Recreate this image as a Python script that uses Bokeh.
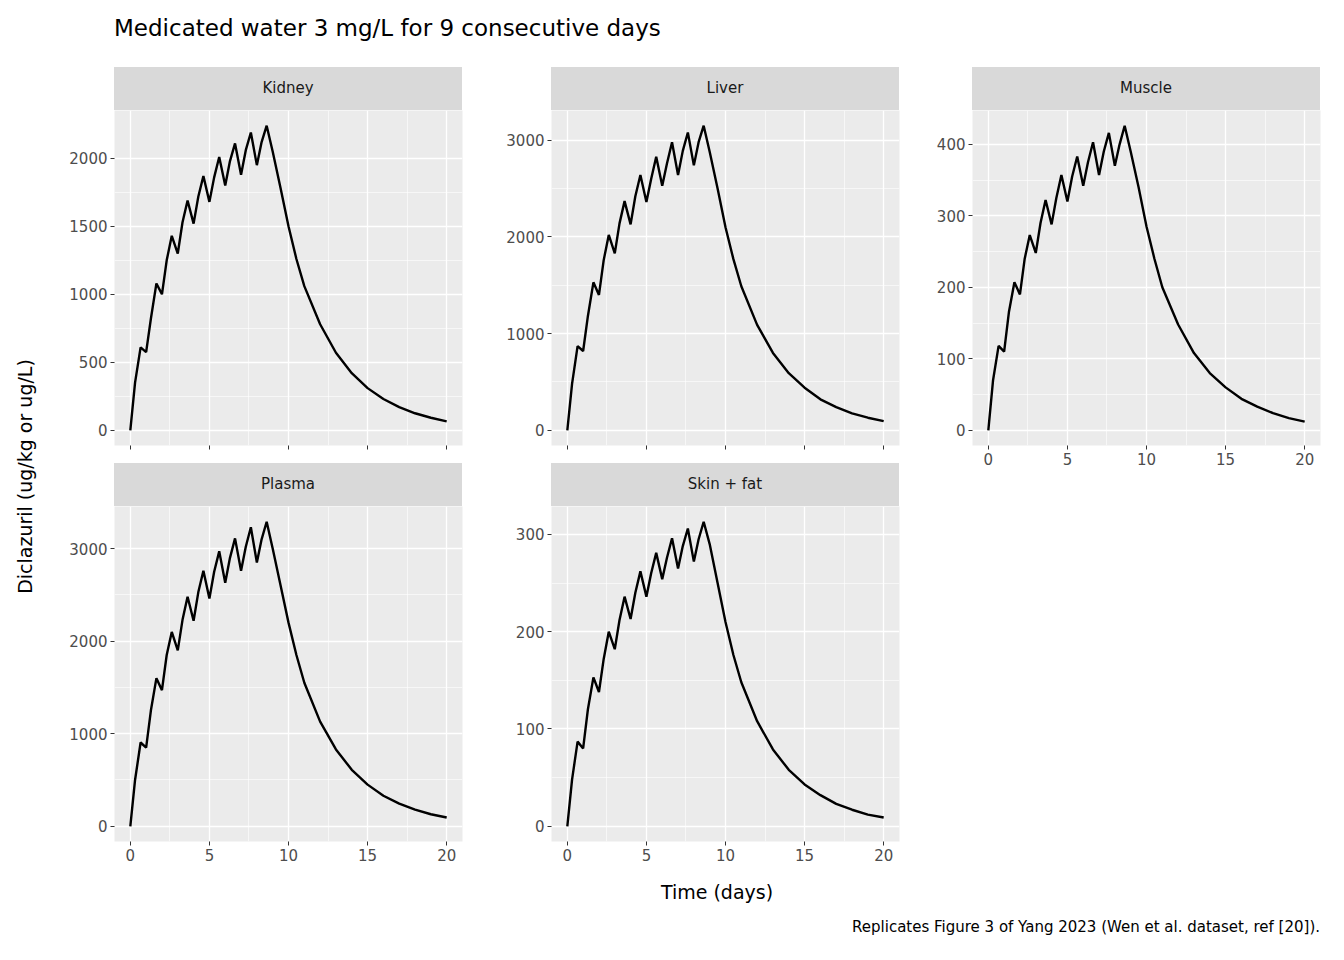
import math
from bokeh.plotting import figure
from bokeh.models import Div, Range1d, Label, FixedTicker, Plot
from bokeh.layouts import column, row
from bokeh.embed import file_html
from bokeh.resources import INLINE

time = [0, 0.3, 0.65, 1.0, 1.3, 1.65, 2.0, 2.3, 2.62, 3.0, 3.3, 3.62, 4.0, 4.3, 4.62,
        5.0, 5.3, 5.62, 6.0, 6.3, 6.62, 7.0, 7.3, 7.62, 8.0, 8.3, 8.62,
        9.0, 9.5, 10, 10.5, 11, 12, 13, 14, 15, 16, 17, 18, 19, 20]

kidney = [0, 350, 610, 575, 820, 1080, 1000, 1250, 1430, 1300, 1530, 1690, 1520, 1720, 1870,
          1680, 1860, 2010, 1800, 1980, 2110, 1880, 2060, 2190, 1950, 2120, 2240,
          2050, 1780, 1500, 1260, 1060, 780, 570, 420, 310, 230, 170, 125, 92, 66]
liver = [0, 480, 870, 820, 1180, 1530, 1400, 1760, 2020, 1830, 2140, 2370, 2130, 2420, 2640,
         2360, 2600, 2830, 2530, 2760, 2980, 2640, 2890, 3080, 2740, 2980, 3150,
         2880, 2500, 2100, 1770, 1490, 1090, 800, 590, 440, 320, 240, 175, 130, 95]
muscle = [0, 70, 118, 110, 165, 207, 190, 240, 273, 248, 290, 322, 288, 325, 357,
          320, 355, 383, 342, 375, 403, 357, 390, 416, 370, 400, 426,
          390, 340, 285, 240, 200, 148, 108, 80, 60, 44, 33, 24, 17, 12]
plasma = [0, 500, 905, 850, 1250, 1600, 1470, 1850, 2100, 1900, 2230, 2480, 2220, 2530, 2760,
          2460, 2750, 2970, 2630, 2900, 3110, 2760, 3020, 3230, 2850, 3100, 3290,
          3000, 2600, 2200, 1850, 1550, 1130, 830, 610, 450, 330, 245, 180, 130, 95]
skin = [0, 48, 87, 80, 120, 153, 138, 172, 200, 182, 212, 236, 213, 240, 262,
        236, 260, 281, 254, 276, 296, 265, 288, 306, 272, 295, 313,
        290, 250, 210, 176, 148, 108, 79, 58, 43, 32, 23, 17, 12, 9]

panels = [("Kidney", kidney, [0, 500, 1000, 1500, 2000]),
          ("Liver", liver, [0, 1000, 2000, 3000]),
          ("Muscle", muscle, [0, 100, 200, 300, 400]),
          ("Plasma", plasma, [0, 1000, 2000, 3000]),
          ("Skin + fat", skin, [0, 100, 200, 300])]
x_ticks = [0, 5, 10, 15, 20]

FONT = "DejaVu Sans"

def span(txt, size, extra=""):
    return (f'<span style="font-family:\'{FONT}\';font-size:{size}px;color:#1a1a1a;'
            f'white-space:nowrap;{extra}">{txt}</span>')

def strip(name, left):
    return Div(text=f'<div style="width:348px;height:43px;line-height:43px;text-align:center;'
                    f'background:#d9d9d9;">{span(name, 15)}</div>',
               width=348, height=43, margin=(0, 0, 0, left))

def panel(name, vals, ticks, left, right, bottom, labels):
    ymin, ymax = min(vals), max(vals)
    pad = (ymax - ymin) * 0.05
    frame_h = 335
    p = figure(width=left + 348 + right, height=frame_h + bottom, output_backend="svg",
               toolbar_location=None, x_range=Range1d(-1, 21), y_range=Range1d(ymin - pad, ymax + pad),
               min_border_left=left, min_border_right=right, min_border_top=0, min_border_bottom=bottom)
    p.background_fill_color = "#ebebeb"
    p.border_fill_color = "white"
    p.outline_line_color = None
    p.line(time, vals, line_color="black", line_width=2.4)
    for ax, tk in ((p.xaxis[0], x_ticks), (p.yaxis[0], ticks)):
        minor = [(a + b) / 2 for a, b in zip(tk[:-1], tk[1:])]
        ax.ticker = FixedTicker(ticks=tk, minor_ticks=minor)
        ax.axis_line_color = None
        ax.major_tick_line_color = "#333333"
        ax.major_tick_in = 0
        ax.major_tick_out = 4
        ax.minor_tick_line_color = None
        ax.major_label_text_color = "#4d4d4d"
        ax.major_label_text_font = FONT
        ax.major_label_text_font_size = "15px"
        ax.major_label_standoff = 3
    if not labels:
        p.xaxis.major_label_overrides = {t: "" for t in x_ticks}
    for g in (p.xgrid[0], p.ygrid[0]):
        g.grid_line_color = "white"
        g.grid_line_width = 1.3
        g.minor_grid_line_color = "white"
        g.minor_grid_line_width = 0.6
    return p

title = Div(text=span("Medicated water 3 mg/L for 9 consecutive days", 23, "color:black;"),
            width=1200, height=55, margin=(12, 0, 0, 114))

ylab = Plot(width=40, height=812, toolbar_location=None, output_backend="svg",
            min_border=0, outline_line_color=None)
ylab.add_layout(Label(x=24, y=403, x_units="screen", y_units="screen", angle=math.pi / 2,
                      text="Diclazuril (ug/kg or ug/L)", text_align="center", text_baseline="middle",
                      text_font=FONT, text_font_size="19px", text_color="black"))

f1 = panel(*panels[0], left=74, right=5, bottom=18, labels=False)
f2 = panel(*panels[1], left=84, right=5, bottom=18, labels=False)
f3 = panel(*panels[2], left=68, right=7, bottom=37, labels=True)
f4 = panel(*panels[3], left=74, right=5, bottom=37, labels=True)
f5 = panel(*panels[4], left=84, right=5, bottom=37, labels=True)

colA = column(strip("Kidney", 74), f1, strip("Plasma", 74), f4)
colB = column(strip("Liver", 84), f2, strip("Skin + fat", 84), f5)
colC = column(strip("Muscle", 68), f3)

xlab = Div(text=f'<div style="width:400px;text-align:center;">{span("Time (days)", 19, "color:black;")}</div>',
           width=400, height=30, margin=(0, 0, 0, 725 - 8 - 200))
cap = Div(text=f'<div style="width:800px;text-align:right;">'
               f'{span("Replicates Figure 3 of Yang 2023 (Wen et al. dataset, ref [20]).", 15, "color:black;")}</div>',
          width=800, height=30, margin=(8, 0, 0, 1328 - 8 - 800))

layout = column(title, row(ylab, colA, colB, colC), xlab, cap)
open("out.html", "w").write(file_html(layout, INLINE))
